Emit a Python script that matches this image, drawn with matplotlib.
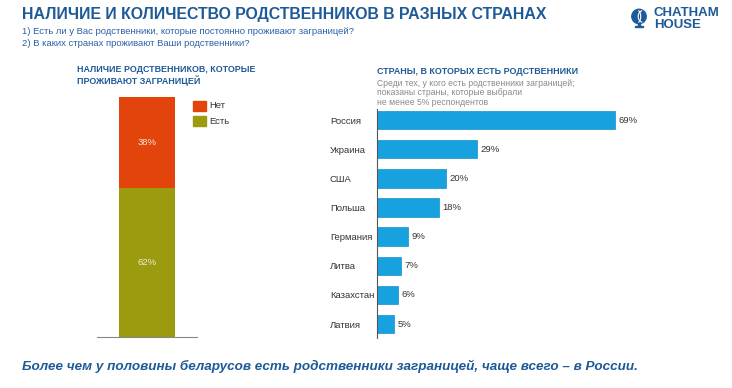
import matplotlib.pyplot as plt
from matplotlib.patches import Circle, Arc, Rectangle

plt.rcParams['font.family'] = ['Liberation Sans', 'DejaVu Sans']

# data
share_labels = ["Есть", "Нет"]
share_values = [62, 38]
share_colors = ["#9c9a0e", "#e2440c"]

countries = ["Россия", "Украина", "США", "Польша", "Германия", "Литва", "Казахстан", "Латвия"]
country_values = [69, 29, 20, 18, 9, 7, 6, 5]

W, H = 732, 388
BLUE = "#1d5a97"
BAR_BLUE = "#17a2df"

fig = plt.figure(figsize=(W / 100, H / 100), dpi=100)
fig.patch.set_facecolor("white")


def fx(px):
    return px / W


def fy(py):
    return 1 - py / H


# header texts
fig.text(fx(22), fy(15), "НАЛИЧИЕ И КОЛИЧЕСТВО РОДСТВЕННИКОВ В РАЗНЫХ СТРАНАХ",
         fontsize=11.4, fontweight="bold", color=BLUE, va="center")
fig.text(fx(22), fy(32), "1) Есть ли у Вас родственники, которые постоянно проживают заграницей?",
         fontsize=6.8, color="#2a62a8", va="center")
fig.text(fx(22), fy(43), "2) В каких странах проживают Ваши родственники?",
         fontsize=6.8, color="#2a62a8", va="center")

# logo
lax = fig.add_axes([fx(628), fy(30), fx(22), 22 / H])
lax.set_xlim(-1.1, 1.1)
lax.set_ylim(-1.5, 1.1)
lax.set_aspect("equal")
lax.axis("off")
lax.add_patch(Circle((0, 0.1), 0.85, color=BLUE))
lax.add_patch(Arc((0.5, 0.1), 1.2, 1.4, theta1=100, theta2=260, color="white", lw=0.8))
lax.add_patch(Arc((-0.2, 0.1), 0.8, 1.5, theta1=-80, theta2=80, color="white", lw=0.8))
lax.add_patch(Rectangle((-0.08, -1.0), 0.16, 0.3, color=BLUE))
lax.add_patch(Rectangle((-0.45, -1.15), 0.9, 0.18, color=BLUE))
fig.text(fx(654), fy(13), "CHATHAM", fontsize=9.5, fontweight="bold", color=BLUE, va="center")
fig.text(fx(654), fy(25), "HOUSE", fontsize=9.5, fontweight="bold", color=BLUE, va="center")

# left chart: stacked bar
fig.text(fx(77), fy(70), "НАЛИЧИЕ РОДСТВЕННИКОВ, КОТОРЫЕ", fontsize=6.4,
         fontweight="bold", color=BLUE, va="center")
fig.text(fx(77), fy(81), "ПРОЖИВАЮТ ЗАГРАНИЦЕЙ", fontsize=6.4,
         fontweight="bold", color=BLUE, va="center")

ax1 = fig.add_axes([fx(97), fy(337), fx(100), 240 / H])
bottom = 0
for lab, val, col in zip(share_labels, share_values, share_colors):
    ax1.bar(0.5, val, width=0.56, bottom=bottom, color=col)
    ax1.text(0.5, bottom + val / 2, f"{val}%", ha="center", va="center",
             fontsize=6.8, color="#f4ecd8")
    bottom += val
ax1.set_xlim(0, 1)
ax1.set_ylim(0, 100)
for s in ["top", "right", "left"]:
    ax1.spines[s].set_visible(False)
ax1.spines["bottom"].set_color("#888888")
ax1.spines["bottom"].set_linewidth(0.8)
ax1.set_xticks([])
ax1.set_yticks([])

# legend (Нет first, then Есть)
for i, (lab, col) in enumerate(zip(share_labels[::-1], share_colors[::-1])):
    y = 106 + i * 15
    fig.patches.append(Rectangle((fx(193), fy(y + 4.5)), fx(13), 9 / H,
                                 color=col, transform=fig.transFigure))
    fig.text(fx(209), fy(y), lab, fontsize=6.8, color="#333333", va="center")

# right chart: horizontal bars
fig.text(fx(377), fy(71), "СТРАНЫ, В КОТОРЫХ ЕСТЬ РОДСТВЕННИКИ", fontsize=6.4,
         fontweight="bold", color=BLUE, va="center")
for i, line in enumerate(["Среди тех, у кого есть родственники заграницей;",
                          "показаны страны, которые выбрали",
                          "не менее 5% респондентов"]):
    fig.text(fx(377), fy(83 + i * 9.8), line, fontsize=6.2, color="#8a8a8a", va="center")

ax2 = fig.add_axes([fx(377), fy(338), fx(345), 229 / H])
pos = list(range(len(countries)))
ax2.barh(pos, country_values, height=0.63, color=BAR_BLUE, edgecolor="#1190c8", linewidth=0.5)
for p, v in zip(pos, country_values):
    ax2.text(v + 1.0, p, f"{v}%", va="center", ha="left", fontsize=6.8, color="#333333")
ax2.set_xlim(0, 100)
ax2.set_ylim(7.48, -0.38)
ax2.set_yticks(pos)
ax2.set_yticklabels(countries, fontsize=6.8, color="#333333", ha="left")
ax2.tick_params(axis="y", length=0, pad=47)
ax2.set_xticks([])
for s in ["top", "right", "bottom"]:
    ax2.spines[s].set_visible(False)
ax2.spines["left"].set_color("#555555")
ax2.spines["left"].set_linewidth(0.8)
# move the country labels so they start at the reference x position
for t in ax2.get_yticklabels():
    t.set_x(-(377 - 330) / 345)
ax2.tick_params(axis="y", pad=0)

# conclusion
fig.text(fx(22), fy(366), "Более чем у половины беларусов есть родственники заграницей, чаще всего – в России.",
         fontsize=9.7, fontweight="bold", fontstyle="italic", color=BLUE, va="center")

fig.savefig("out.png", dpi=100)
